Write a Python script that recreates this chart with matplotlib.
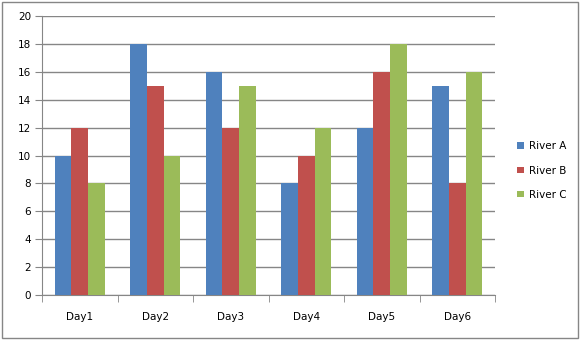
import matplotlib.pyplot as plt
import numpy as np
from matplotlib.patches import Rectangle

days = ['Day1', 'Day2', 'Day3', 'Day4', 'Day5', 'Day6']
river_a = [10, 18, 16, 8, 12, 15]
river_b = [12, 15, 12, 10, 16, 8]
river_c = [8, 10, 15, 12, 18, 16]
series = [('River A', river_a, '#4F81BD'),
          ('River B', river_b, '#C0504D'),
          ('River C', river_c, '#9BBB59')]

grey = '#868686'

fig = plt.figure(figsize=(5.81, 3.41), dpi=100)
ax = fig.add_axes([42 / 581, 46 / 341, 453 / 581, 279 / 341])

# outer chart border
fig.patches.append(Rectangle((2 / 581, 3 / 341), 576 / 581, 336 / 341,
                             transform=fig.transFigure, fill=False,
                             edgecolor=grey, linewidth=1))

x = np.arange(len(days))
width = 1 / 4.5
for i, (name, vals, color) in enumerate(series):
    ax.bar(x + (i - 1) * width, vals, width, color=color, label=name, zorder=3)

ax.set_xlim(-0.5, len(days) - 0.5)
ax.set_ylim(0, 20)
ax.set_yticks(range(0, 21, 2))
ax.yaxis.grid(True, color=grey, linewidth=1)
ax.set_axisbelow(True)

ax.set_xticks(x)
ax.set_xticklabels(days)
ax.set_xticks(np.arange(-0.5, len(days)), minor=True)
ax.tick_params(axis='x', which='major', length=0, pad=12, labelsize=7.5)
ax.tick_params(axis='x', which='minor', length=5, color=grey, direction='out')
ax.tick_params(axis='y', length=5, color=grey, labelsize=7.5, pad=3)

for side in ['top', 'right']:
    ax.spines[side].set_visible(False)
for side in ['left', 'bottom']:
    ax.spines[side].set_color(grey)

leg = fig.legend(loc='center left', bbox_to_anchor=(508 / 581, 0.5),
                 frameon=False, fontsize=7.5, handlelength=0.6,
                 handleheight=0.6, handletextpad=0.5, labelspacing=1.35)

fig.savefig('out.png', dpi=100)
